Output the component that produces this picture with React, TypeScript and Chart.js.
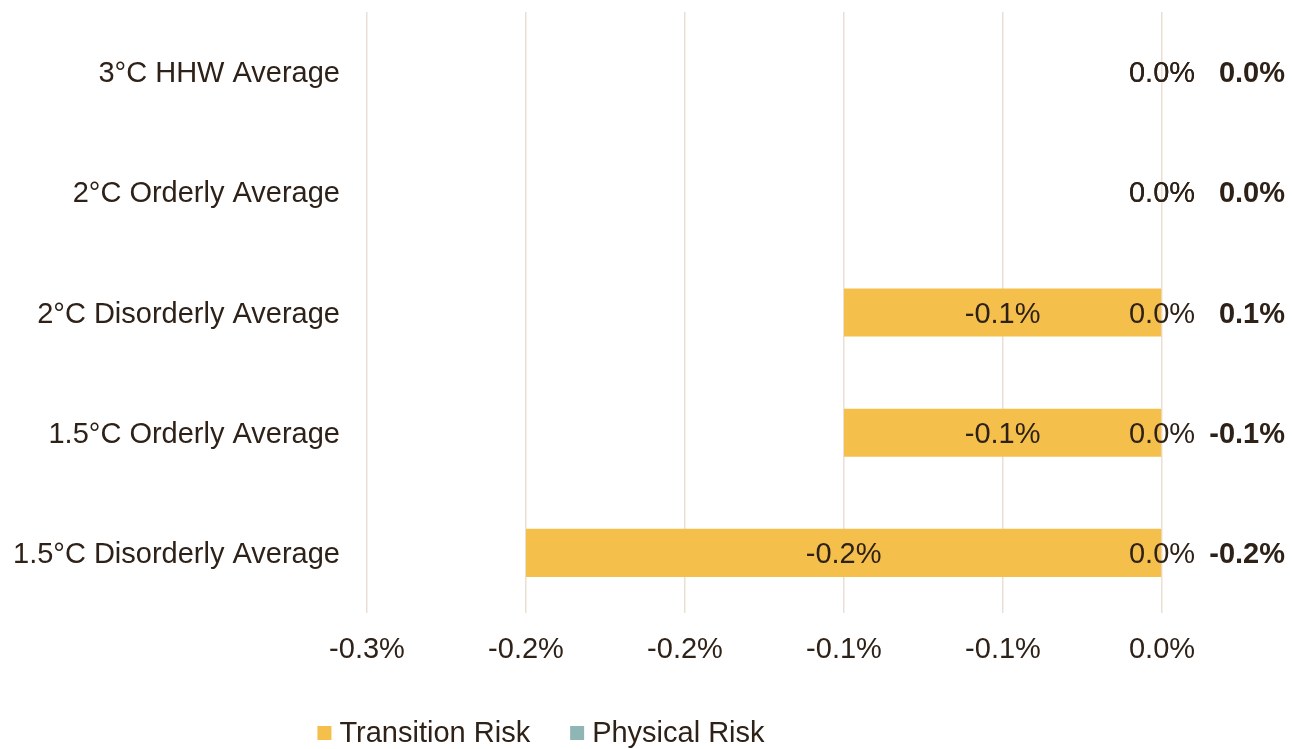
import React, { useEffect, useRef } from 'react';
import { Chart, registerables } from 'chart.js';

Chart.register(...registerables);

const CATEGORIES = [
  '3°C HHW Average',
  '2°C Orderly Average',
  '2°C Disorderly Average',
  '1.5°C Orderly Average',
  '1.5°C Disorderly Average',
];
const TRANSITION_RISK = [0, 0, -0.1, -0.1, -0.2];
const PHYSICAL_RISK = [0, 0, 0, 0, 0];
const TOTAL_LABELS = ['0.0%', '0.0%', '0.1%', '-0.1%', '-0.2%'];
const X_TICK_LABELS = ['-0.3%', '-0.2%', '-0.2%', '-0.1%', '-0.1%', '0.0%'];
const X_MIN = -0.25;
const X_MAX = 0;
const X_STEP = 0.05;
const SERIES_NAMES = ['Transition Risk', 'Physical Risk'];

const FONT = '"Liberation Sans", Arial, Helvetica, sans-serif';
const TEXT = '#2E2118';
const GOLD = '#F4BF4B';
const TEAL = '#8FB6B4';
const GRID = '#EBDFD5';
const FS = 29;

const labelsPlugin = {
  id: 'valueLabels',
  afterDatasetsDraw(chart: any) {
    const ctx = chart.ctx;
    ctx.save();
    ctx.fillStyle = TEXT;
    ctx.textBaseline = 'middle';
    ctx.textAlign = 'center';
    ctx.font = `${FS}px ${FONT}`;
    chart.data.datasets.forEach((ds: any, i: number) => {
      const meta = chart.getDatasetMeta(i);
      meta.data.forEach((bar: any, j: number) => {
        const v = ds.data[j] as number;
        const cx = (bar.x + bar.base) / 2;
        ctx.fillText(`${v.toFixed(1)}%`, cx, bar.y + 2);
      });
    });
    ctx.font = `bold ${FS}px ${FONT}`;
    ctx.textAlign = 'right';
    const meta0 = chart.getDatasetMeta(0);
    meta0.data.forEach((bar: any, j: number) => {
      ctx.fillText(TOTAL_LABELS[j], chart.width - 7, bar.y + 2);
    });
    ctx.restore();
  },
};

const legendPlugin = {
  id: 'customLegend',
  afterDraw(chart: any) {
    const ctx = chart.ctx;
    ctx.save();
    ctx.font = `${FS}px ${FONT}`;
    ctx.textBaseline = 'middle';
    ctx.textAlign = 'left';
    const box = 14;
    const gap = 8;
    const itemGap = 40;
    const items = chart.data.datasets.map((ds: any) => ({
      label: ds.label,
      color: ds.backgroundColor,
      w: ctx.measureText(ds.label).width,
    }));
    const total = items.reduce((s: number, it: any) => s + box + gap + it.w, 0) + itemGap * (items.length - 1);
    const centerX = 541;
    const cy = 734;
    let x = centerX - total / 2;
    items.forEach((it: any) => {
      ctx.fillStyle = it.color;
      ctx.fillRect(x, cy - box / 2 - 1, box, box);
      x += box + gap;
      ctx.fillStyle = TEXT;
      ctx.fillText(it.label, x, cy);
      x += it.w + itemGap;
    });
    ctx.restore();
  },
};

export default function App() {
  const ref = useRef<HTMLCanvasElement | null>(null);

  useEffect(() => {
    if (!ref.current) return;
    const chart = new Chart(ref.current, {
      type: 'bar',
      data: {
        labels: CATEGORIES,
        datasets: [
          {
            label: SERIES_NAMES[0],
            data: TRANSITION_RISK,
            backgroundColor: GOLD,
            borderWidth: 0,
            grouped: false,
            barPercentage: 0.4,
            categoryPercentage: 1,
          } as any,
          {
            label: SERIES_NAMES[1],
            data: PHYSICAL_RISK,
            backgroundColor: TEAL,
            borderWidth: 0,
            grouped: false,
            barPercentage: 0.4,
            categoryPercentage: 1,
          } as any,
        ],
      },
      options: {
        indexAxis: 'y',
        animation: false,
        responsive: true,
        maintainAspectRatio: false,
        layout: { padding: { top: 12, right: 130, left: 0, bottom: 0 } },
        plugins: {
          legend: { display: false },
          tooltip: { enabled: false },
        },
        scales: {
          x: {
            min: X_MIN,
            max: X_MAX,
            ticks: {
              stepSize: X_STEP,
              color: TEXT,
              font: { family: FONT, size: FS },
              padding: 20,
              maxRotation: 0,
              autoSkip: false,
              callback: (_v: any, i: number) => X_TICK_LABELS[i],
            },
            grid: { color: GRID, lineWidth: 1.5, drawTicks: false },
            border: { display: false },
            afterFit: (s: any) => {
              s.height = 136;
              s.paddingLeft = 0;
              s.paddingRight = 0;
            },
          },
          y: {
            ticks: {
              color: TEXT,
              font: { family: FONT, size: FS },
              padding: 27,
              labelOffset: 2,
            },
            grid: { display: false, drawTicks: false },
            border: { display: false },
            afterFit: (s: any) => {
              s.width = 367;
              s.paddingTop = 0;
              s.paddingBottom = 0;
            },
          },
        },
      },
      plugins: [labelsPlugin, legendPlugin],
    });
    return () => chart.destroy();
  }, []);

  return (
    <div
      style={{
        position: 'fixed',
        left: 0,
        top: 0,
        width: 1292,
        height: 749,
        background: '#ffffff',
      }}
    >
      <canvas ref={ref} />
    </div>
  );
}
